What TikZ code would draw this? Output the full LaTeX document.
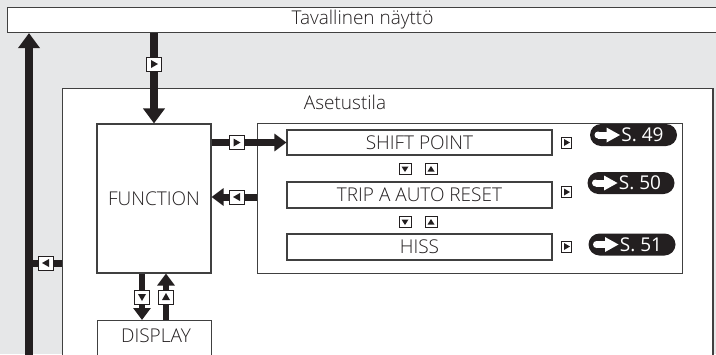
\documentclass[tikz,border=0pt]{standalone}
\usepackage{fontspec}
\setmainfont{Open Sans}[UprightFont=* Light]
\newfontfamily\pillfont{Open Sans}
\usetikzlibrary{arrows.meta,calc}
\definecolor{bg}{HTML}{E6E7E8}
\definecolor{ink}{HTML}{231F20}
\definecolor{frame}{HTML}{404040}
\tikzset{
  box/.style={draw=frame, line width=1.1pt, fill=white, inner sep=0pt,
    font=\fontsize{19}{19}\selectfont, text=ink},
  lbl/.style={inner sep=0pt, font=\fontsize{19}{19}\selectfont, text=ink},
  bigarrow/.style={draw=ink, line width=8pt, -{Triangle[width=21pt,length=15pt]}},
  midarrow/.style={draw=ink, line width=7pt, -{Triangle[width=17pt,length=12pt]}},
  smallarrow/.style={draw=ink, line width=6.5pt, -{Triangle[width=17pt,length=12pt]}},
  plainbar/.style={draw=ink, line width=7pt},
  keybox/.style={draw=ink, line width=1pt, fill=white, minimum width=15pt,
    minimum height=14pt, inner sep=0pt},
  updownkey/.style={draw=ink, line width=1pt, fill=white, minimum width=12pt,
    minimum height=11pt, inner sep=0pt},
  tinykey/.style={draw=ink, line width=0.9pt, fill=white, minimum width=10pt,
    minimum height=11pt, inner sep=0pt},
  pill/.style={fill=ink, rounded corners=11pt, minimum width=87pt,
    minimum height=22pt, inner sep=0pt},
  pilltext/.style={inner sep=0pt, font=\pillfont\fontsize{19}{19}\selectfont, text=white},
}
% triangles inside key boxes
\newcommand\trR[1]{\fill[ink] ([xshift=-3pt,yshift=4pt]#1.center) -- ([xshift=-3pt,yshift=-4pt]#1.center) -- ([xshift=4pt]#1.center) -- cycle;}
\newcommand\trL[1]{\fill[ink] ([xshift=3pt,yshift=4pt]#1.center) -- ([xshift=3pt,yshift=-4pt]#1.center) -- ([xshift=-4pt]#1.center) -- cycle;}
\newcommand\trD[1]{\fill[ink] ([xshift=-4pt,yshift=3pt]#1.center) -- ([xshift=4pt,yshift=3pt]#1.center) -- ([yshift=-4pt]#1.center) -- cycle;}
\newcommand\trU[1]{\fill[ink] ([xshift=-4pt,yshift=-3pt]#1.center) -- ([xshift=4pt,yshift=-3pt]#1.center) -- ([yshift=4pt]#1.center) -- cycle;}
\newcommand\smD[1]{\fill[ink] ([xshift=-3.5pt,yshift=2.5pt]#1.center) -- ([xshift=3.5pt,yshift=2.5pt]#1.center) -- ([yshift=-3pt]#1.center) -- cycle;}
\newcommand\smU[1]{\fill[ink] ([xshift=-3.5pt,yshift=-2.5pt]#1.center) -- ([xshift=3.5pt,yshift=-2.5pt]#1.center) -- ([yshift=3pt]#1.center) -- cycle;}
\newcommand\smR[1]{\fill[ink] ([xshift=-2.5pt,yshift=3.5pt]#1.center) -- ([xshift=-2.5pt,yshift=-3.5pt]#1.center) -- ([xshift=3.5pt]#1.center) -- cycle;}
\newcommand\pillarrow[1]{%
  \begin{scope}[shift={(#1.center)}]
    \fill[white] (-35.5,0) circle (3.5pt);
    \fill[white] (-35.5,-3.5) rectangle (-25,3.5);
    \fill[white] (-27,-7.5) -- (-13.5,0) -- (-27,7.5) -- cycle;
  \end{scope}}
\begin{document}
\begin{tikzpicture}[x=1pt,y=-1pt]
\useasboundingbox (0,0) rectangle (716,354);
\fill[bg] (0,0) rectangle (716,354);
\clip (0,0) rectangle (716,354);

% top box
\node[box, minimum width=710pt, minimum height=25pt, anchor=north west] (top) at (7,7) {Tavallinen näyttö};

% settings area
\node[box, minimum width=650pt, minimum height=290pt, anchor=north west] (set) at (62,88) {};
\draw[frame, line width=2pt] (set.north east) -- (set.south east);
\node[lbl] (setlabel) at (345,102) {Asetustila};

% function block
\node[box, minimum width=114pt, minimum height=149pt] (func) at (154,198.5) {FUNCTION};

% display block
\node[box, minimum width=114pt, minimum height=60pt, anchor=north west] (disp) at (97,320) {};
\node[lbl] (displabel) at (156,336) {DISPLAY};

% menu group
\node[box, minimum width=425pt, minimum height=150pt, anchor=north west] (grp) at (257,123) {};
\node[box, minimum width=265pt, minimum height=25pt] (shift) at (419.5,142.5) {SHIFT POINT};
\node[box, minimum width=265pt, minimum height=26pt] (trip) at (419.5,195) {TRIP A AUTO RESET};
\node[box, minimum width=265pt, minimum height=26pt] (hiss) at (419.5,247) {HISS};

% up/down keys between items
\node[updownkey] (d1) at (405,169) {}; \smD{d1}
\node[updownkey] (u1) at (431,169) {}; \smU{u1}
\node[updownkey] (d2) at (405,222) {}; \smD{d2}
\node[updownkey] (u2) at (431,222) {}; \smU{u2}

% right keys and page pills
\node[tinykey] (r1) at (566.5,142.5) {}; \smR{r1}
\node[tinykey] (r2) at (566.5,192) {}; \smR{r2}
\node[tinykey] (r3) at (566.5,246.5) {}; \smR{r3}
\node[pill] (p1) at (633.5,135) {}; \pillarrow{p1}
\node[pilltext] (t1) at (642.5,135) {S. 49};
\node[pill] (p2) at (631,183) {}; \pillarrow{p2}
\node[pilltext] (t2) at (640,183) {S. 50};
\node[pill] (p3) at (632,244.5) {}; \pillarrow{p3}
\node[pilltext] (t3) at (641,244.5) {S. 51};

% left return arrow
\coordinate (lbot) at (29,360);
\draw[bigarrow] (lbot) -- (lbot |- top.south);
\coordinate (br) at (62,263);
\draw[plainbar] (br) -- (br -| lbot);
\node[keybox] (k0) at (46,263) {}; \trL{k0}

% top -> function
\draw[bigarrow] (top.south -| func.north) -- (func.north);
\node[keybox] (k1) at (154,64) {}; \trR{k1}

% function -> shift point
\draw[midarrow] (func.east |- shift.west) -- (shift.west);
\node[keybox] (k2) at (236.5,142.5) {}; \trR{k2}

% group -> function
\coordinate (bk) at (257,197);
\draw[midarrow] (bk) -- (bk -| func.east);
\node[keybox] (k3) at (237,197) {}; \trL{k3}

% function <-> display
\draw[smallarrow] ([xshift=-12pt]func.south) -- ([xshift=-12pt]func.south |- disp.north);
\draw[smallarrow] ([xshift=12pt]func.south |- disp.north) -- ([xshift=12pt]func.south);
\node[keybox] (k4) at (142,297) {}; \trD{k4}
\node[keybox] (k5) at (166,297) {}; \trU{k5}
\end{tikzpicture}
\end{document}
